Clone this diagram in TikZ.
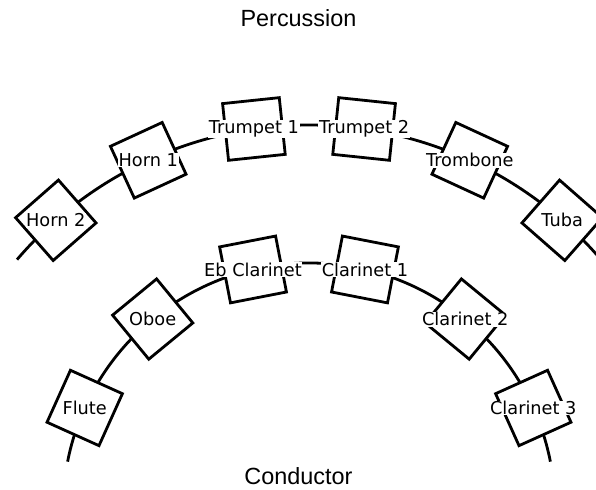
\documentclass[tikz,border=0pt]{standalone}
\usepackage{fontspec}
\setmainfont{Liberation Sans}
\newfontfamily\seatfont{DejaVu Sans}

\begin{document}
\begin{tikzpicture}[x=1bp, y=1bp,
    seat/.style={draw, line width=2.8bp, fill=white, minimum size=57bp, inner sep=0pt},
    part/.style={fill=white, inner sep=0.6bp, font=\seatfont\fontsize{17.8}{19}\selectfont},
    side/.style={font=\fontsize{23.5}{25}\selectfont, anchor=base}]

    % Page frame (arc centre is the origin)
    \useasboundingbox (-309,19) rectangle (287,509);

    % --- Back row: brass on the outer arc ---
    \draw[line width=2.8bp] (139.5:384) arc[start angle=139.5, end angle=40.5, radius=384];

    \node[seat, rotate=41.25]  (hornii)   at (131.25:384) {};
    \node[seat, rotate=24.75]  (horni)    at (114.75:384) {};
    \node[seat, rotate=6]      (trpi)     at (98.25:384)  {};
    \node[seat, rotate=-6]     (trpii)    at (81.75:384)  {};
    \node[seat, rotate=-24.75] (trombone) at (65.25:384)  {};
    \node[seat, rotate=-41.25] (tuba)     at (48.75:384)  {};

    \node[part] (hornii-l)   at (hornii)   {Horn 2};
    \node[part] (horni-l)    at (horni)    {Horn 1};
    \node[part] (trpi-l)     at (trpi)     {Trumpet 1};
    \node[part] (trpii-l)    at (trpii)    {Trumpet 2};
    \node[part] (trombone-l) at (trombone) {Trombone};
    \node[part] (tuba-l)     at (tuba)     {Tuba};

    % --- Front row: woodwinds on the inner arc ---
    \draw[line width=2.8bp] (168.9:246) arc[start angle=168.9, end angle=11.1, radius=246];

    \node[seat, rotate=65.75]  (flute)  at (155.75:246) {};
    \node[seat, rotate=39.45]  (oboe)   at (129.45:246) {};
    \node[seat, rotate=11]     (ebcl)   at (103.15:246) {};
    \node[seat, rotate=-11]    (cli)    at (76.85:246)  {};
    \node[seat, rotate=-39.45] (clii)   at (50.55:246)  {};
    \node[seat, rotate=-65.75] (cliii)  at (24.25:246)  {};

    \node[part] (flute-l) at (flute) {Flute};
    \node[part] (oboe-l)  at (oboe)  {Oboe};
    \node[part] (ebcl-l)  at (ebcl)  {Eb Clarinet};
    \node[part] (cli-l)   at (cli)   {Clarinet 1};
    \node[part] (clii-l)  at (clii)  {Clarinet 2};
    \node[part] (cliii-l) at (cliii) {Clarinet 3};

    % Stage directions
    \node[side] (percussion) at (-10.5,482) {Percussion};
    \node[side] (conductor)  at (-10.5,24)  {Conductor};

\end{tikzpicture}
\end{document}
